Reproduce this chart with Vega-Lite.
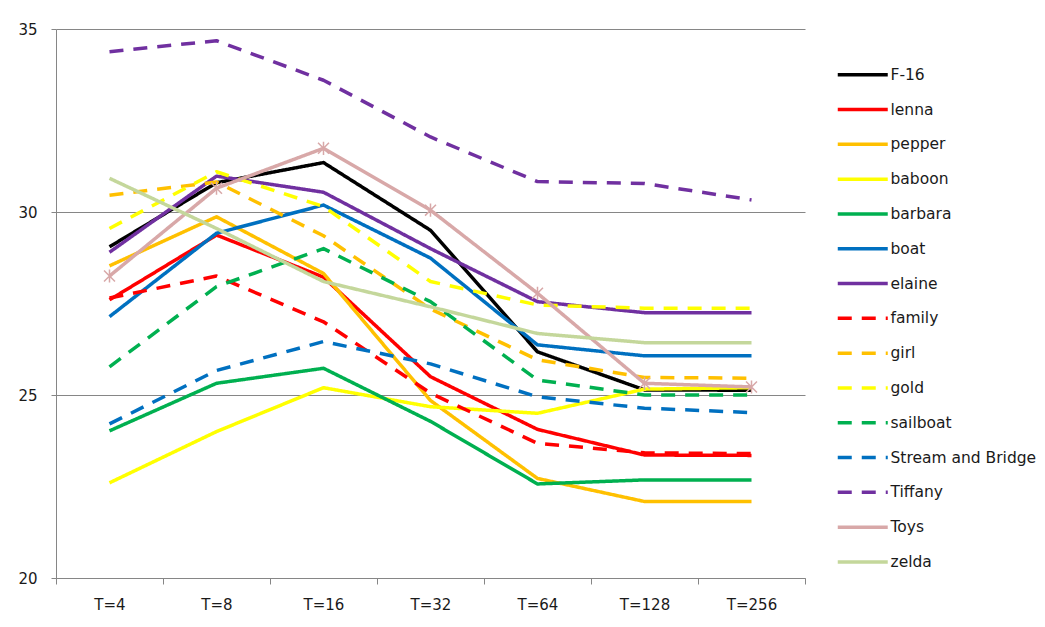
{
  "$schema": "https://vega.github.io/schema/vega-lite/v6.json",
  "width": 749,
  "height": 549,
  "autosize": "none",
  "padding": {"left": 56, "top": 29, "right": 240, "bottom": 49},
  "background": "#ffffff",
  "config": {
    "view": {"stroke": null},
    "font": "DejaVu Sans",
    "axis": {
      "labelFont": "DejaVu Sans",
      "labelFontSize": 15,
      "labelColor": "#1a1a1a",
      "domainColor": "#868686",
      "tickColor": "#868686",
      "gridColor": "#868686",
      "title": null
    },
    "legend": {
      "labelFont": "DejaVu Sans",
      "labelFontSize": 15.5,
      "labelColor": "#1a1a1a"
    }
  },
  "data": {
    "values": [
      {"series": "F-16", "T": "T=4", "value": 29.05},
      {"series": "F-16", "T": "T=8", "value": 30.8},
      {"series": "F-16", "T": "T=16", "value": 31.35},
      {"series": "F-16", "T": "T=32", "value": 29.5},
      {"series": "F-16", "T": "T=64", "value": 26.18},
      {"series": "F-16", "T": "T=128", "value": 25.14},
      {"series": "F-16", "T": "T=256", "value": 25.13},
      {"series": "lenna", "T": "T=4", "value": 27.6},
      {"series": "lenna", "T": "T=8", "value": 29.37},
      {"series": "lenna", "T": "T=16", "value": 28.22},
      {"series": "lenna", "T": "T=32", "value": 25.5},
      {"series": "lenna", "T": "T=64", "value": 24.06},
      {"series": "lenna", "T": "T=128", "value": 23.36},
      {"series": "lenna", "T": "T=256", "value": 23.35},
      {"series": "pepper", "T": "T=4", "value": 28.53},
      {"series": "pepper", "T": "T=8", "value": 29.87},
      {"series": "pepper", "T": "T=16", "value": 28.32},
      {"series": "pepper", "T": "T=32", "value": 24.85},
      {"series": "pepper", "T": "T=64", "value": 22.72},
      {"series": "pepper", "T": "T=128", "value": 22.09},
      {"series": "pepper", "T": "T=256", "value": 22.09},
      {"series": "baboon", "T": "T=4", "value": 22.6},
      {"series": "baboon", "T": "T=8", "value": 24.0},
      {"series": "baboon", "T": "T=16", "value": 25.2},
      {"series": "baboon", "T": "T=32", "value": 24.68},
      {"series": "baboon", "T": "T=64", "value": 24.5},
      {"series": "baboon", "T": "T=128", "value": 25.16},
      {"series": "baboon", "T": "T=256", "value": 25.2},
      {"series": "barbara", "T": "T=4", "value": 24.02},
      {"series": "barbara", "T": "T=8", "value": 25.32},
      {"series": "barbara", "T": "T=16", "value": 25.73},
      {"series": "barbara", "T": "T=32", "value": 24.28},
      {"series": "barbara", "T": "T=64", "value": 22.57},
      {"series": "barbara", "T": "T=128", "value": 22.68},
      {"series": "barbara", "T": "T=256", "value": 22.68},
      {"series": "boat", "T": "T=4", "value": 27.14},
      {"series": "boat", "T": "T=8", "value": 29.42},
      {"series": "boat", "T": "T=16", "value": 30.19},
      {"series": "boat", "T": "T=32", "value": 28.74},
      {"series": "boat", "T": "T=64", "value": 26.37},
      {"series": "boat", "T": "T=128", "value": 26.07},
      {"series": "boat", "T": "T=256", "value": 26.07},
      {"series": "elaine", "T": "T=4", "value": 28.9},
      {"series": "elaine", "T": "T=8", "value": 30.98},
      {"series": "elaine", "T": "T=16", "value": 30.54},
      {"series": "elaine", "T": "T=32", "value": 29.0},
      {"series": "elaine", "T": "T=64", "value": 27.55},
      {"series": "elaine", "T": "T=128", "value": 27.25},
      {"series": "elaine", "T": "T=256", "value": 27.25},
      {"series": "family", "T": "T=4", "value": 27.65},
      {"series": "family", "T": "T=8", "value": 28.25},
      {"series": "family", "T": "T=16", "value": 27.0},
      {"series": "family", "T": "T=32", "value": 25.05},
      {"series": "family", "T": "T=64", "value": 23.68},
      {"series": "family", "T": "T=128", "value": 23.42},
      {"series": "family", "T": "T=256", "value": 23.4},
      {"series": "girl", "T": "T=4", "value": 30.46},
      {"series": "girl", "T": "T=8", "value": 30.82},
      {"series": "girl", "T": "T=16", "value": 29.35},
      {"series": "girl", "T": "T=32", "value": 27.35},
      {"series": "girl", "T": "T=64", "value": 25.96},
      {"series": "girl", "T": "T=128", "value": 25.48},
      {"series": "girl", "T": "T=256", "value": 25.46},
      {"series": "gold", "T": "T=4", "value": 29.55},
      {"series": "gold", "T": "T=8", "value": 31.1},
      {"series": "gold", "T": "T=16", "value": 30.15},
      {"series": "gold", "T": "T=32", "value": 28.1},
      {"series": "gold", "T": "T=64", "value": 27.46},
      {"series": "gold", "T": "T=128", "value": 27.37},
      {"series": "gold", "T": "T=256", "value": 27.37},
      {"series": "sailboat", "T": "T=4", "value": 25.77},
      {"series": "sailboat", "T": "T=8", "value": 27.96},
      {"series": "sailboat", "T": "T=16", "value": 29.0},
      {"series": "sailboat", "T": "T=32", "value": 27.55},
      {"series": "sailboat", "T": "T=64", "value": 25.41},
      {"series": "sailboat", "T": "T=128", "value": 25.0},
      {"series": "sailboat", "T": "T=256", "value": 25.0},
      {"series": "Stream and Bridge", "T": "T=4", "value": 24.21},
      {"series": "Stream and Bridge", "T": "T=8", "value": 25.67},
      {"series": "Stream and Bridge", "T": "T=16", "value": 26.46},
      {"series": "Stream and Bridge", "T": "T=32", "value": 25.85},
      {"series": "Stream and Bridge", "T": "T=64", "value": 24.95},
      {"series": "Stream and Bridge", "T": "T=128", "value": 24.64},
      {"series": "Stream and Bridge", "T": "T=256", "value": 24.52},
      {"series": "Tiffany", "T": "T=4", "value": 34.38},
      {"series": "Tiffany", "T": "T=8", "value": 34.68},
      {"series": "Tiffany", "T": "T=16", "value": 33.6},
      {"series": "Tiffany", "T": "T=32", "value": 32.05},
      {"series": "Tiffany", "T": "T=64", "value": 30.83},
      {"series": "Tiffany", "T": "T=128", "value": 30.78},
      {"series": "Tiffany", "T": "T=256", "value": 30.33},
      {"series": "Toys", "T": "T=4", "value": 28.25},
      {"series": "Toys", "T": "T=8", "value": 30.65},
      {"series": "Toys", "T": "T=16", "value": 31.74},
      {"series": "Toys", "T": "T=32", "value": 30.05},
      {"series": "Toys", "T": "T=64", "value": 27.78},
      {"series": "Toys", "T": "T=128", "value": 25.32},
      {"series": "Toys", "T": "T=256", "value": 25.22},
      {"series": "zelda", "T": "T=4", "value": 30.92},
      {"series": "zelda", "T": "T=8", "value": 29.55},
      {"series": "zelda", "T": "T=16", "value": 28.1},
      {"series": "zelda", "T": "T=32", "value": 27.41},
      {"series": "zelda", "T": "T=64", "value": 26.68},
      {"series": "zelda", "T": "T=128", "value": 26.43},
      {"series": "zelda", "T": "T=256", "value": 26.43}
    ]
  },
  "encoding": {
    "x": {
      "field": "T",
      "type": "nominal",
      "sort": ["T=4", "T=8", "T=16", "T=32", "T=64", "T=128", "T=256"],
      "scale": {"type": "band", "paddingInner": 0, "paddingOuter": 0},
      "axis": {
        "labelAngle": 0,
        "tickBand": "extent",
        "tickSize": 6,
        "labelPadding": 13,
        "grid": false
      }
    },
    "y": {
      "field": "value",
      "type": "quantitative",
      "scale": {"domain": [20, 35], "nice": false, "zero": false},
      "axis": {
        "values": [20, 25, 30, 35],
        "tickSize": 5,
        "labelPadding": 14,
        "grid": true
      }
    }
  },
  "layer": [
    {
      "mark": {"type": "line", "strokeWidth": 3.5, "strokeCap": "butt", "strokeJoin": "round"},
      "encoding": {
        "color": {
          "field": "series",
          "type": "nominal",
          "scale": {
            "domain": ["F-16", "lenna", "pepper", "baboon", "barbara", "boat", "elaine", "family", "girl", "gold", "sailboat", "Stream and Bridge", "Tiffany", "Toys", "zelda"],
            "range": ["#000000", "#ff0000", "#ffc000", "#ffff00", "#00b050", "#0070c0", "#7030a0", "#ff0000", "#ffc000", "#ffff00", "#00b050", "#0070c0", "#7030a0", "#d8a8a8", "#c4d79b"]
          },
          "legend": {
            "title": null,
            "orient": "none",
            "legendX": 814,
            "legendY": 38,
            "padding": 0,
            "symbolType": "M-8,0L2,0",
            "symbolSize": 100,
            "symbolStrokeWidth": 3.5,
            "labelOffset": 5,
            "rowPadding": 17.8
          }
        },
        "strokeDash": {
          "field": "series",
          "type": "nominal",
          "scale": {
            "domain": ["F-16", "lenna", "pepper", "baboon", "barbara", "boat", "elaine", "family", "girl", "gold", "sailboat", "Stream and Bridge", "Tiffany", "Toys", "zelda"],
            "range": [[1, 0], [1, 0], [1, 0], [1, 0], [1, 0], [1, 0], [1, 0], [14, 10], [14, 10], [14, 10], [14, 10], [14, 10], [14, 10], [1, 0], [1, 0]]
          },
          "legend": {
            "title": null,
            "orient": "none",
            "legendX": 814,
            "legendY": 38,
            "padding": 0,
            "symbolType": "M-8,0L2,0",
            "symbolSize": 100,
            "symbolStrokeWidth": 3.5,
            "labelOffset": 5,
            "rowPadding": 17.8
          }
        }
      }
    },
    {
      "transform": [{"filter": "datum.series === 'Toys'"}],
      "mark": {
        "type": "point",
        "shape": "M-1,-1L1,1M-1,1L1,-1M0,-1.2L0,1.2",
        "filled": false,
        "size": 120,
        "strokeWidth": 1.5,
        "color": "#d8a8a8",
        "opacity": 1
      }
    }
  ]
}
